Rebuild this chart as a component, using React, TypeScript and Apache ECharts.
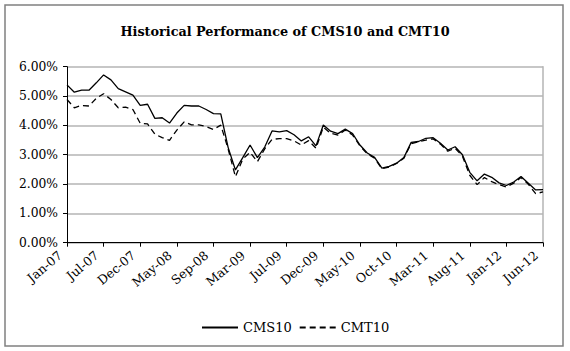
import React, { useEffect, useRef } from "react";
import * as echarts from "echarts";

const tickLabels = [
  "Jan-07", "Jul-07", "Dec-07", "May-08", "Sep-08", "Mar-09", "Jul-09",
  "Dec-09", "May-10", "Oct-10", "Mar-11", "Aug-11", "Jan-12", "Jun-12",
];

const cms10 = [
  5.38, 5.13, 5.2, 5.2, 5.45, 5.72, 5.55, 5.25, 5.14, 5.03,
  4.68, 4.72, 4.24, 4.26, 4.08, 4.42, 4.68, 4.66, 4.66, 4.54,
  4.4, 4.39, 3.25, 2.48, 2.9, 3.33, 2.9, 3.26, 3.81, 3.78,
  3.82, 3.68, 3.47, 3.61, 3.3, 4.01, 3.8, 3.72, 3.87, 3.72,
  3.33, 3.06, 2.91, 2.54, 2.6, 2.71, 2.9, 3.42, 3.45, 3.56,
  3.58, 3.39, 3.16, 3.27, 3.0, 2.4, 2.11, 2.34, 2.23, 2.04,
  1.95, 2.07, 2.26, 2.03, 1.8, 1.81,
];

const cmt10 = [
  4.88, 4.6, 4.68, 4.66, 4.92, 5.08, 4.88, 4.6, 4.62, 4.54,
  4.07, 4.05, 3.7, 3.58, 3.49, 3.84, 4.12, 4.02, 4.02, 3.96,
  3.86, 4.01, 3.2, 2.25, 2.85, 3.08, 2.76, 3.2, 3.52, 3.55,
  3.55, 3.47, 3.33, 3.48, 3.22, 3.94, 3.73, 3.67, 3.84, 3.67,
  3.3, 3.03, 2.88, 2.52, 2.58, 2.7, 2.88, 3.38, 3.44, 3.5,
  3.54, 3.36, 3.12, 3.22, 2.95, 2.3, 1.98, 2.22, 2.08, 1.98,
  1.9, 2.03, 2.22, 1.99, 1.67, 1.73,
];

const categories = cms10.map((_, i) =>
  i % 5 === 0 ? tickLabels[i / 5] : "p" + i
);

const FONT = "DejaVu Serif";

export default function App() {
  const ref = useRef<HTMLDivElement>(null);
  useEffect(() => {
    if (!ref.current) return;
    const chart = echarts.init(ref.current, null, { renderer: "svg" });
    chart.setOption({
      animation: false,
      backgroundColor: "#ffffff",
      title: {
        text: "Historical Performance of CMS10 and CMT10",
        left: "center",
        top: 20,
        textStyle: { fontFamily: FONT, fontWeight: "bold", fontSize: 12.8, color: "#000" },
      },
      graphic: [
        {
          type: "rect",
          shape: { x: 5, y: 5, width: 558, height: 341 },
          style: { fill: "none", stroke: "#808080", lineWidth: 1.5 },
          silent: true,
        },
      ],
      legend: {
        left: 196,
        top: 316,
        itemWidth: 36,
        itemHeight: 14,
        itemGap: 7,
        itemStyle: { opacity: 0, borderWidth: 0 },
        textStyle: { fontFamily: FONT, fontSize: 13, color: "#000" },
        data: ["CMS10", "CMT10"],
      },
      grid: { left: 67, right: 27, top: 66.7, bottom: 108.3, containLabel: false },
      xAxis: {
        type: "category",
        data: categories,
        boundaryGap: false,
        axisLine: { lineStyle: { color: "#000", width: 1 } },
        axisTick: { interval: 4, length: 4, lineStyle: { color: "#000" } },
        axisLabel: {
          interval: 4,
          rotate: 40,
          margin: 5,
          padding: [0, 9, 0, 0],
          fontFamily: FONT,
          fontSize: 12.5,
          color: "#000",
        },
        splitLine: { show: false },
      },
      yAxis: [
        {
          type: "value",
          min: 0,
          max: 6,
          interval: 1,
          axisLine: { show: true, lineStyle: { color: "#000", width: 1 } },
          axisTick: { show: true, length: 4, lineStyle: { color: "#000" } },
          axisLabel: {
            formatter: (v: number) => v.toFixed(2) + "%",
            fontFamily: FONT,
            fontSize: 12.3,
            color: "#000",
            margin: 9,
          },
          splitLine: { show: true, lineStyle: { color: "#b4b4b4", width: 1.5 } },
        },
        {
          type: "value",
          position: "right",
          min: 0,
          max: 6,
          interval: 1,
          axisLine: { show: true, lineStyle: { color: "#b4b4b4", width: 1.5 } },
          axisTick: { show: false },
          axisLabel: { show: false },
          splitLine: { show: false },
        },
      ],
      series: [
        {
          name: "CMS10",
          type: "line",
          data: cms10,
          symbol: "none",
          lineStyle: { color: "#000", width: 1.3, type: "solid" },
          itemStyle: { color: "#000" },
        },
        {
          name: "CMT10",
          type: "line",
          data: cmt10,
          symbol: "none",
          lineStyle: { color: "#000", width: 1.3, type: [6, 4] },
          itemStyle: { color: "#000" },
        },
      ],
    });
    return () => chart.dispose();
  }, []);
  return (
    <div
      ref={ref}
      style={{ position: "fixed", left: 0, top: 0, width: 570, height: 351 }}
    />
  );
}
